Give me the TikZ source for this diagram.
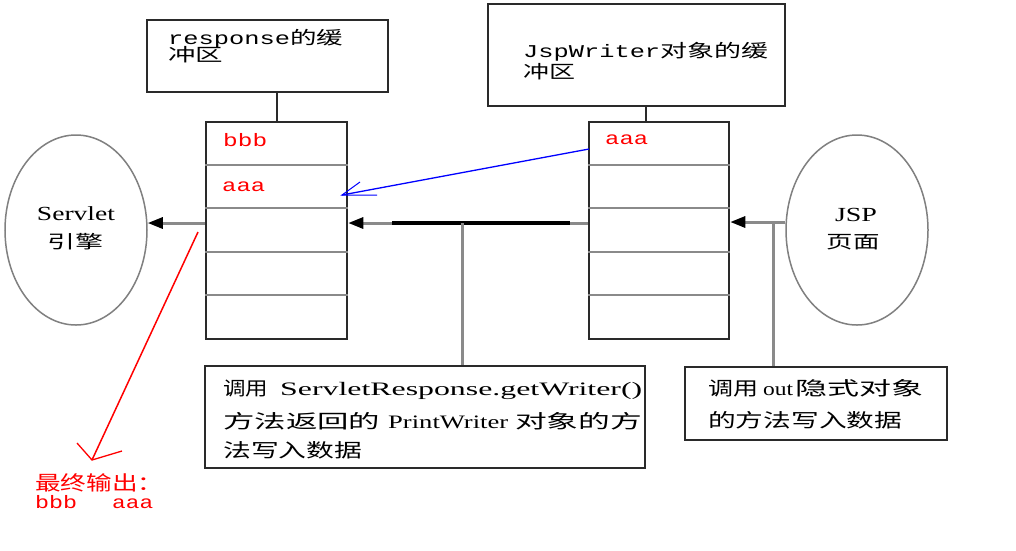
\documentclass[tikz,border=0pt]{standalone}
\usepackage{fontspec}
\usepackage{graphicx}
\newfontfamily\cjk{Noto Sans CJK SC}
\newfontfamily\monof{Liberation Mono}
\newfontfamily\serf{Liberation Serif}
\usetikzlibrary{arrows.meta,shapes.geometric}
\newcommand\fw[2]{\resizebox{#1}{\height}{#2}}
\newcommand\fsz[1]{\fontsize{#1}{#1}\selectfont}
\newcommand\twolines[3]{\vtop{\baselineskip=#1\lineskiplimit=-30pt\hbox{#2}\hbox{#3}}}
\definecolor{lgray}{HTML}{8A8A8A}
\definecolor{dgray}{HTML}{2A2A2A}
\begin{document}
\begin{tikzpicture}[x=1pt,y=-1pt,
  topbox/.style={draw=dgray, line width=2pt, rectangle, inner sep=0},
  stackbox/.style={draw=dgray, line width=2.5pt, rectangle, inner sep=0},
  oval/.style={draw=gray, line width=1.5pt, ellipse, inner sep=0},
  lbox/.style={draw=dgray, line width=2pt, rectangle, inner sep=0},
  txt/.style={inner sep=0, anchor=base west},
  ctxt/.style={inner sep=0, anchor=base},
  gline/.style={draw=lgray, line width=3pt},
  garrow/.style={gline, -{Triangle[length=15pt,width=11pt,color=black]}},
  divline/.style={draw=lgray, line width=2pt},
  dline/.style={draw=dgray, line width=2pt},
  redtxt/.style={txt, text=red}]
\path[use as bounding box, fill=white] (0,0) rectangle (1016,550);

% boxes
\node[topbox, minimum width=241pt, minimum height=72pt] (rb) at (267.5,56) {};
\node[topbox, minimum width=297pt, minimum height=102pt] (jb) at (636.5,55) {};
\node[stackbox, minimum width=141pt, minimum height=217pt] (ls) at (276.5,230.5) {};
\node[stackbox, minimum width=140pt, minimum height=217pt] (rs) at (659,230.5) {};
\node[oval, minimum width=142pt, minimum height=190pt] (sv) at (76,230) {};
\node[oval, minimum width=142pt, minimum height=190pt] (jsp) at (857,230) {};
\node[lbox, minimum width=440pt, minimum height=102pt] (b1) at (425,417) {};
\node[lbox, minimum width=262pt, minimum height=73pt] (b2) at (816,403.5) {};

% stack dividers
\foreach \yy in {165,208,252,295} {
  \draw[divline] (ls.west |- 0,\yy) -- (ls.east |- 0,\yy);
  \draw[divline] (rs.west |- 0,\yy) -- (rs.east |- 0,\yy);
}

% connectors
\draw[dline] (ls.north) -- (ls.north |- rb.south);
\draw[dline] ([xshift=-13pt]rs.north) -- ([xshift=-13pt]rs.north |- jb.south);
\draw[garrow] (ls.west |- 0,223) -- (sv.east |- 0,223);
\draw[garrow] (rs.west |- 0,223) -- (ls.east |- 0,223);
\coordinate (k1) at (392,223);
\coordinate (k2) at (570,223);
\draw[line width=3.5pt] (k1) -- (k2);
\coordinate (m1) at (462,223);
\draw[gline] (m1) -- (m1 |- b1.north);
\draw[garrow] (jsp.west |- 0,222) -- (rs.east |- 0,222);
\coordinate (m2) at (773,222);
\draw[gline] (m2) -- (m2 |- b2.north);

% blue arrow
\coordinate (bs) at (589,149);
\coordinate (bt) at (342,195);
\draw[blue, line width=1.3pt] (bs) -- (bt);
\draw[blue, line width=1pt] (bt) ++(18,-13) -- (bt) -- ++(35,0);

% red arrow
\coordinate (rs0) at (198,232);
\coordinate (rt) at (92,460);
\draw[red, line width=1.5pt] (rs0) -- (rt);
\draw[red, line width=1.3pt] (rt) ++(-15,-17) -- (rt) -- ++(30,-9);

% texts in top boxes
\node[txt] (t1) at (168,44) {\fsz{18}\twolines{17.5pt}{\monof\fw{122pt}{response}\cjk\fw{53pt}{的缓}}{\cjk\fw{55pt}{冲区}}};
\node[txt] (t3) at (523,57) {\fsz{18}\twolines{21pt}{\monof\fw{137pt}{JspWriter}\cjk\fw{108pt}{对象的缓}}{\cjk\fw{52pt}{冲区}}};

% red stack texts
\node[redtxt] (r1) at (223,146) {\monof\fsz{18}\fw{44pt}{bbb}};
\node[redtxt] (r2) at (222,191) {\monof\fsz{18}\fw{43pt}{aaa}};
\node[redtxt] (r3) at (605,144) {\monof\fsz{18}\fw{43pt}{aaa}};

% ellipse texts
\node[ctxt] (s1) at (76,220) {\serf\fsz{20}\fw{78pt}{Servlet}};
\node[ctxt] (s2) at (75,248) {\cjk\fsz{18}\fw{56pt}{引擎}};
\node[ctxt] (j1) at (856,221) {\serf\fsz{20}\fw{42pt}{JSP}};
\node[ctxt] (j2) at (853,248) {\cjk\fsz{18}\fw{53pt}{页面}};

% lower box 1
\node[txt] (l1) at (223,395) {\cjk\fsz{19}\fw{45pt}{调用}\hspace{12pt}\serf\fw{362pt}{ServletResponse.getWriter()}};
\node[txt] (l2) at (223,428) {\cjk\fsz{19}\fw{157pt}{方法返回的}\hspace{8pt}\serf\fw{120pt}{PrintWriter}\hspace{7pt}\cjk\fw{127pt}{对象的方}};
\node[txt] (l3) at (223,457) {\cjk\fsz{19}\fw{139pt}{法写入数据}};

% lower box 2
\node[txt] (q1) at (708,395) {\cjk\fsz{19}\fw{50pt}{调用}\hspace{5pt}\serf\fw{30pt}{out}\hspace{2pt}\cjk\fw{128pt}{隐式对象}};
\node[txt] (q2) at (708,427) {\cjk\fsz{19}\fw{194pt}{的方法写入数据}};

% final output
\node[redtxt] (f1) at (35,490) {\cjk\fsz{20}\fw{128pt}{最终输出：}};
\node[redtxt] (f2) at (35,508) {\monof\fsz{18}\fw{42pt}{bbb}\hspace{35pt}\fw{41pt}{aaa}};
\end{tikzpicture}
\end{document}
